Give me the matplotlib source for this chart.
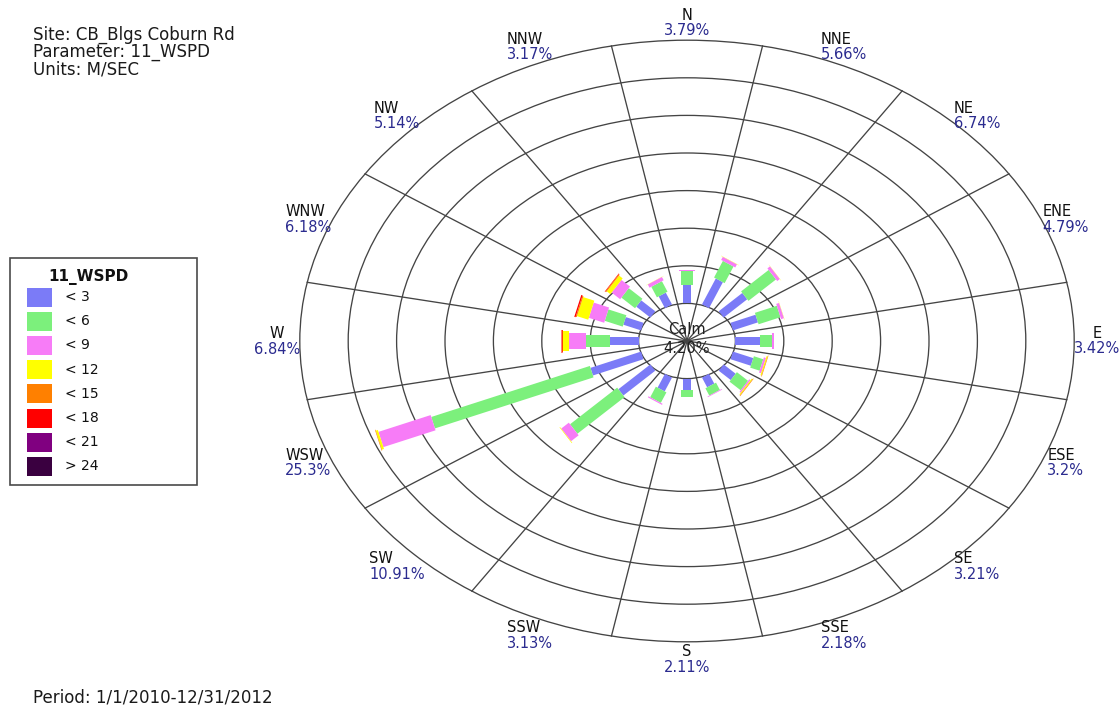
import numpy as np
import matplotlib
matplotlib.use("Agg")
import matplotlib.pyplot as plt
from matplotlib.patches import Ellipse, Rectangle

# ---------------------------------------------------------------- data
directions = ["N", "NNE", "NE", "ENE", "E", "ESE", "SE", "SSE",
              "S", "SSW", "SW", "WSW", "W", "WNW", "NW", "NNW"]
direction_totals = ["3.79", "5.66", "6.74", "4.79", "3.42", "3.2", "3.21", "2.18",
                    "2.11", "3.13", "10.91", "25.3", "6.84", "6.18", "5.14", "3.17"]
calm_pct = "4.20"

speed_labels = ["< 3", "< 6", "< 9", "< 12", "< 15", "< 18", "< 21", "> 24"]
speed_colors = ["#7b7bf7", "#7cf07c", "#f77cf7", "#ffff00",
                "#ff8000", "#ff0000", "#800080", "#3a0040"]

# frequency (%) per direction for each speed class (M/SEC)
pct_lt3 = [2.15, 3.20, 2.95, 2.40, 2.15, 1.95, 1.50, 1.20,
           1.35, 1.70, 4.00, 4.85, 2.50, 1.70, 1.76, 1.45]
pct_lt6 = [1.50, 2.05, 3.45, 2.10, 1.10, 0.90, 1.40, 0.90,
           0.70, 1.30, 5.90, 15.20, 2.20, 1.72, 1.71, 1.30]
pct_lt9 = [0.12, 0.38, 0.32, 0.27, 0.15, 0.20, 0.15, 0.08,
           0.06, 0.13, 0.95, 5.00, 1.48, 1.47, 1.07, 0.40]
pct_lt12 = [0.02, 0.03, 0.02, 0.02, 0.02, 0.10, 0.10, 0.00,
            0.00, 0.00, 0.06, 0.20, 0.55, 1.07, 0.45, 0.02]
pct_lt15 = [0.00, 0.00, 0.00, 0.00, 0.00, 0.05, 0.06, 0.00,
            0.00, 0.00, 0.00, 0.05, 0.08, 0.10, 0.10, 0.00]
pct_lt18 = [0.00, 0.00, 0.00, 0.00, 0.00, 0.00, 0.00, 0.00,
            0.00, 0.00, 0.00, 0.00, 0.03, 0.12, 0.05, 0.00]
pct_lt21 = [0.0] * 16
pct_gt24 = [0.0] * 16

speed_series = [pct_lt3, pct_lt6, pct_lt9, pct_lt12,
                pct_lt15, pct_lt18, pct_lt21, pct_gt24]

header_lines = ["Site: CB_Blgs Coburn Rd", "Parameter: 11_WSPD", "Units: M/SEC"]
period_text = "Period: 1/1/2010-12/31/2012"
legend_title = "11_WSPD"

# ---------------------------------------------------------------- layout
W_PX, H_PX, DPI = 1119, 706, 100
CX, CY = 687, 341            # rose centre (pixels from top-left)
RING_X, RING_Y = 48.4, 37.6  # one ring step in pixels (horizontal / vertical)
N_RINGS = 8                  # calm circle + 7 rings
RING_PCT = 30.0 / 7          # percent represented by one ring step
BAR_WIDTH_PX = [8, 12, 16, 20, 22, 23, 24, 25]
GRID_COLOR = "#444444"
PCT_COLOR = "#2b2b8f"
FONT = "DejaVu Sans"

plt.rcParams["font.family"] = FONT

fig = plt.figure(figsize=(W_PX / DPI, H_PX / DPI), dpi=DPI)
fig.patch.set_facecolor("white")

# Rose axes: data units are ring steps, centred on the rose
ax = fig.add_axes([0, 0, 1, 1])
ax.set_xlim(-CX / RING_X, (W_PX - CX) / RING_X)
ax.set_ylim(-(H_PX - CY) / RING_Y, CY / RING_Y)
ax.axis("off")

# concentric rings
for k in range(1, N_RINGS + 1):
    ax.add_patch(Ellipse((0, 0), 2 * k, 2 * k, fill=False,
                         edgecolor=GRID_COLOR, lw=0.95, zorder=1))

# sector boundary spokes
for k in range(16):
    a = np.deg2rad(11.25 + 22.5 * k)
    ax.plot([0, N_RINGS * np.sin(a)], [0, N_RINGS * np.cos(a)],
            color=GRID_COLOR, lw=0.95, zorder=1)

# stacked bars, starting at the calm circle
pt_per_px = 72.0 / DPI
for i, name in enumerate(directions):
    a = np.deg2rad(22.5 * i)
    s, c = np.sin(a), np.cos(a)
    cum = 0.0
    for series, color, wpx in zip(speed_series, speed_colors, BAR_WIDTH_PX):
        val = series[i]
        if val <= 0:
            continue
        r0 = 1 + cum / RING_PCT
        r1 = 1 + (cum + val) / RING_PCT
        ax.plot([r0 * s, r1 * s], [r0 * c, r1 * c], color=color,
                lw=wpx * pt_per_px, solid_capstyle="butt", zorder=3)
        cum += val

# calm label
ax.text(0, 11 / RING_Y, "Calm", ha="center", va="center", fontsize=10.5,
        color="#202020", zorder=4)
ax.text(0, -8 / RING_Y, calm_pct + "%", ha="center", va="center", fontsize=10.5,
        color="#202020", zorder=4)

# direction labels
renderer = fig.canvas.get_renderer()
LABEL_R = 8.47
for i, (name, tot) in enumerate(zip(directions, direction_totals)):
    a = np.deg2rad(22.5 * i)
    bx, by = LABEL_R * np.sin(a), LABEL_R * np.cos(a)
    y_name = by + 7.5 / RING_Y
    y_pct = by - 8.0 / RING_Y
    t = ax.text(bx, y_pct, tot + "%", ha="center", va="center",
                fontsize=10.5, color=PCT_COLOR)
    if i % 4 == 0:
        ax.text(bx, y_name, name, ha="center", va="center",
                fontsize=10.5, color="#111111")
    else:
        bb = t.get_window_extent(renderer=renderer)
        x_left = ax.transData.inverted().transform((bb.x0, 0))[0]
        ax.text(x_left, y_name, name, ha="left", va="center",
                fontsize=10.5, color="#111111")

# Overlay axes in pixel units for header, legend and footer
ov = fig.add_axes([0, 0, 1, 1])
ov.set_xlim(0, W_PX)
ov.set_ylim(H_PX, 0)
ov.axis("off")

for k, line in enumerate(header_lines):
    ov.text(33, 35 + 17 * k, line, ha="left", va="center",
            fontsize=12, color="#1a1a1a")
ov.text(33, 697, period_text, ha="left", va="center", fontsize=12, color="#1a1a1a")

# legend box
ov.add_patch(Rectangle((10, 258), 187, 227, fill=True, facecolor="white",
                       edgecolor="#4a4a4a", lw=1.2))
ov.text(48, 277, legend_title, ha="left", va="center", fontsize=11,
        fontweight="bold", color="#111111")
for k, (lab, col) in enumerate(zip(speed_labels, speed_colors)):
    yc = 297 + 24.2 * k
    ov.add_patch(Rectangle((27, yc - 9.5), 25, 19, facecolor=col, edgecolor="none"))
    ov.text(65, yc, lab, ha="left", va="center", fontsize=10, color="#111111")

fig.savefig("out.png", dpi=DPI, facecolor="white")
